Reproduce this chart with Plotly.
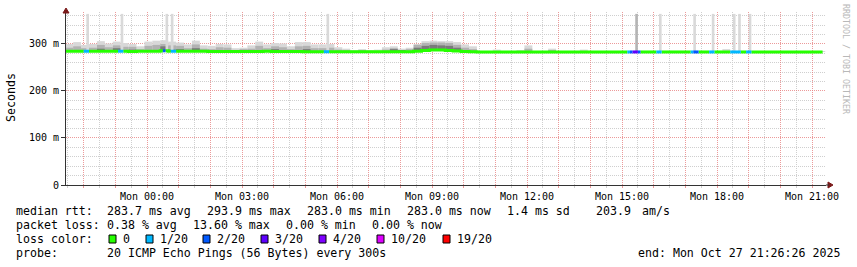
import pandas as pd
import plotly.graph_objects as go

# ---------------------------------------------------------------- data
window_start = "2025-10-26 21:26:26"
window_end = "2025-10-27 21:26:26"

x_tick_times = ["2025-10-27 00:00", "2025-10-27 03:00", "2025-10-27 06:00", "2025-10-27 09:00",
                "2025-10-27 12:00", "2025-10-27 15:00", "2025-10-27 18:00", "2025-10-27 21:00"]
x_tick_labels = ["Mon 00:00", "Mon 03:00", "Mon 06:00", "Mon 09:00",
                 "Mon 12:00", "Mon 15:00", "Mon 18:00", "Mon 21:00"]
y_tick_values = [0, 100, 200, 300]
y_tick_labels = ["0", "100 m", "200 m", "300 m"]

# 15-minute bins starting here
smoke_first_bin = "2025-10-26 21:25"
last_sample = "2025-10-27 21:15"

median_ms = [
    284.5, 284.5, 284.5, 284.5, 284.5, 284.5, 284.5, 284.5, 284.0, 284.5, 284.5, 284.5,
    285.5, 284.5, 284.5, 284.5, 284.5, 284.5, 284.0, 284.0, 284.0, 284.0, 284.0, 284.0,
    284.0, 284.5, 284.0, 284.0, 284.0, 284.0, 283.5, 283.5, 283.5, 283.5, 283.5, 283.5,
    283.5, 283.5, 283.5, 283.5, 283.5, 283.5, 283.5, 283.5, 284.5, 286.0, 287.0, 287.0,
    286.0, 285.0, 284.0, 283.5, 283.0, 283.0, 283.0, 283.0, 283.0, 283.0, 283.0, 283.0,
    283.0, 283.0, 283.0, 283.0, 283.0, 283.0, 283.0, 283.0, 283.0, 283.0, 283.0, 283.0,
    283.0, 283.0, 283.0, 283.0, 283.0, 283.0, 283.0, 283.0, 283.0, 283.0, 283.0, 283.0,
    283.0, 283.0, 283.0, 283.0, 283.0, 283.0, 283.0, 283.0, 283.0, 283.0, 283.0, 283.0,
]
smoke_max_ms = [
    300, 304, 298, 300, 306, 301, 305, 302, 300, 295, 305, 307,
    308, 305, 303, 299, 307, 297, 296, 300, 299, 291, 292, 297,
    305, 299, 302, 301, 295, 304, 304, 299, 299, 300, 293, 290,
    286, 289, 286, 288, 293, 295, 290, 292, 300, 306, 307, 306,
    306, 304, 299, 295, 285, 285, 288, 285, 285, 286, 297, 285,
    285, 290, 284, 284, 284, 288, 284, 284, 284, 284, 284, 284,
    284, 284, 284, 284, 284, 284, 284, 284, 284, 284, 284, 289,
    284, 284, 284, 284, 284, 284, 284, 284, 284, 284, 284, 284,
]
smoke_mid_ms = [
    292, 295, 291, 292, 298, 293, 297, 294, 294, 289, 296, 298,
    300, 297, 296, 291, 299, 290, 289, 293, 292, 287, 289, 290,
    296, 291, 295, 293, 289, 295, 296, 291, 291, 292, 288, 286,
    284, 286, 284, 285, 288, 291, 287, 289, 298, 302, 303, 303,
    302, 298, 292, 289, 283, 283, 285, 283, 283, 283, 290, 283,
    283, 286, 283, 283, 283, 283, 283, 283, 283, 283, 283, 283,
    283, 283, 283, 283, 283, 283, 283, 283, 283, 283, 283, 285,
    283, 283, 283, 283, 283, 283, 283, 283, 283, 283, 283, 283,
]
smoke_dark_ms = [
    284.5, 284.5, 284.5, 284.5, 290, 284.5, 291, 284.5, 288, 284.5, 284.5, 287,
    295, 288, 289, 284.5, 291, 284.5, 284, 286, 284, 284, 287, 284,
    284, 284.5, 289, 284, 284, 286, 289, 284, 284, 284, 284, 283.5,
    283.5, 283.5, 283.5, 283.5, 283.5, 289, 286, 284, 292, 296, 298, 297,
    296, 292, 287, 285, 283, 283, 283, 283, 283, 283, 283, 283,
    283, 283, 283, 283, 283, 283, 283, 283, 283, 283, 283, 283,
    283, 283, 283, 283, 283, 283, 283, 283, 283, 283, 283, 283,
    283, 283, 283, 283, 283, 283, 283, 283, 283, 283, 283, 283,
]

# 5-minute samples with packet loss (lost pings out of 20)
loss_times = [
    "2025-10-26 22:00", "2025-10-26 22:05", "2025-10-26 23:05", "2025-10-26 23:10",
    "2025-10-27 00:30", "2025-10-27 00:45", "2025-10-27 00:50", "2025-10-27 05:35",
    "2025-10-27 05:40", "2025-10-27 15:10", "2025-10-27 15:15", "2025-10-27 15:20",
    "2025-10-27 15:25", "2025-10-27 15:30", "2025-10-27 16:05", "2025-10-27 16:10",
    "2025-10-27 17:10", "2025-10-27 17:15", "2025-10-27 17:20", "2025-10-27 17:45",
    "2025-10-27 17:50", "2025-10-27 18:25", "2025-10-27 18:30", "2025-10-27 18:35",
    "2025-10-27 18:40", "2025-10-27 18:55", "2025-10-27 19:00",
]
loss_counts = [1, 1, 1, 1, 2, 1, 1, 1, 1, 1, 2, 3, 3, 2, 1, 1, 1, 2, 2, 1, 1, 1, 1, 1, 1, 1, 1]

# 5-minute samples with a single very slow ping
spike_times = [
    "2025-10-26 22:05", "2025-10-26 23:10", "2025-10-27 00:35", "2025-10-27 00:45",
    "2025-10-27 05:40", "2025-10-27 16:10", "2025-10-27 17:15", "2025-10-27 17:50",
    "2025-10-27 18:30", "2025-10-27 18:40", "2025-10-27 19:00",
]
spike_top_ms = [364, 364, 364, 364, 364, 364, 364, 364, 364, 364, 364]
dark_spike_times = ["2025-10-27 15:25"]
dark_spike_top_ms = [364]

loss_levels = [0, 1, 2, 3, 4, 10, 19]
loss_labels = ["0", "1/20", "2/20", "3/20", "4/20", "10/20", "19/20"]
loss_colors = ["#26ff00", "#00b8ff", "#0059ff", "#5e00ff", "#7e00ff", "#dd00ff", "#ff0000"]

median_stats = ["283.7 ms avg", "293.9 ms max", "283.0 ms min", "283.0 ms now", "1.4 ms sd", "203.9", "am/s"]
loss_stats = ["0.38 % avg", "13.60 % max", "0.00 % min", "0.00 % now"]
probe_text = "20 ICMP Echo Pings (56 Bytes) every 300s"
end_text = "end: Mon Oct 27 21:26:26 2025"

# ---------------------------------------------------------------- layout geometry
W, H = 857, 267
PL, PR, PT, PB = 66, 826, 12, 185
FONT = "DejaVu Sans Mono"


def px(x):
    return (x - PL) / (PR - PL)


def py(y):
    return (PB - y) / (PB - PT)


def fmt(t):
    return pd.Timestamp(t).strftime("%Y-%m-%d %H:%M:%S")


BIN = pd.Timedelta(minutes=15)
STEP = pd.Timedelta(minutes=5)
bin_starts = [pd.Timestamp(smoke_first_bin) + BIN * k for k in range(len(median_ms))]
bin_centers = [fmt(b + BIN / 2) for b in bin_starts]
steps = list(pd.date_range(smoke_first_bin, last_sample, freq="5min"))
step_med = [median_ms[i // 3] for i in range(len(steps))]
med_at = {t: m for t, m in zip(steps, step_med)}

fig = go.Figure()


def smoke(tops, color):
    heights = [max(0.0, t - m) for t, m in zip(tops, median_ms)]
    fig.add_trace(go.Bar(x=bin_centers, y=heights, base=median_ms,
                         width=BIN.total_seconds() * 1000,
                         marker=dict(color=color, line=dict(width=0)),
                         hoverinfo="skip", showlegend=False))


smoke(smoke_max_ms, "#d8d8d8")
smoke(smoke_mid_ms, "#b2b2b2")
smoke(smoke_dark_ms, "#7a7a7a")


def spikes(times, tops, color):
    ts = [pd.Timestamp(t) for t in times]
    bases = [med_at[t] for t in ts]
    fig.add_trace(go.Bar(x=[fmt(t + STEP / 2) for t in ts],
                         y=[top - b for top, b in zip(tops, bases)], base=bases,
                         width=STEP.total_seconds() * 1000,
                         marker=dict(color=color, line=dict(width=0)),
                         hoverinfo="skip", showlegend=False))


spikes(spike_times, spike_top_ms, "#d9d9d9")
spikes(dark_spike_times, dark_spike_top_ms, "#b4b4b4")

# median line, coloured by packet loss
loss_at = {pd.Timestamp(t): c for t, c in zip(loss_times, loss_counts)}


def color_index(count):
    idx = 0
    for i, lv in enumerate(loss_levels):
        if count >= lv:
            idx = i
    return idx


step_col = [color_index(loss_at.get(t, 0)) for t in steps]
runs = {i: ([], []) for i in range(len(loss_colors))}
i, n = 0, len(steps)
while i < n:
    ci = step_col[i]
    xs, ys = runs[ci]
    j = i
    while j < n and step_col[j] == ci:
        xs.append(fmt(steps[j]))
        ys.append(step_med[j])
        j += 1
    xs.append(fmt(steps[j - 1] + STEP))
    ys.append(step_med[j - 1])
    xs.append(None)
    ys.append(None)
    i = j

for ci in range(len(loss_colors)):
    xs, ys = runs[ci]
    if not xs:
        continue
    fig.add_trace(go.Scatter(x=xs, y=ys, mode="lines", line=dict(color=loss_colors[ci], width=3, shape="hv"),
                             connectgaps=False, hoverinfo="skip", showlegend=False))

# ---------------------------------------------------------------- axes
hours = pd.date_range("2025-10-26 22:00", "2025-10-27 21:00", freq="h")
label_of = {pd.Timestamp(t): l for t, l in zip(x_tick_times, x_tick_labels)}
half_hours = pd.date_range("2025-10-26 21:30", "2025-10-27 20:30", freq="h")

RED = "rgba(230,120,120,0.75)"
GRAY = "#cfcfcf"

fig.update_layout(
    width=W, height=H, template="none",
    margin=dict(l=PL, r=W - PR, t=PT, b=H - PB, pad=0),
    paper_bgcolor="white", plot_bgcolor="white",
    barmode="overlay", showlegend=False,
    font=dict(family=FONT, size=10, color="#000000"),
    xaxis=dict(
        type="date", range=[window_start, window_end],
        tickmode="array", tickvals=[fmt(h) for h in hours],
        ticktext=[label_of.get(h, "") for h in hours],
        showgrid=True, gridcolor=RED, griddash="1px,1px", gridwidth=1,
        ticks="outside", ticklen=2, tickcolor=RED, tickwidth=1,
        showline=True, linecolor="#333333", linewidth=1,
        zeroline=False, tickfont=dict(family=FONT, size=10, color="#000"),
        tickangle=0,
        minor=dict(tickmode="array", tickvals=[fmt(h) for h in half_hours],
                   showgrid=True, gridcolor=GRAY, griddash="1px,1px", gridwidth=1,
                   ticks="outside", ticklen=2, tickcolor=GRAY),
    ),
    yaxis=dict(
        range=[0, 368], tickmode="array", tickvals=y_tick_values, ticktext=y_tick_labels,
        showgrid=True, gridcolor=RED, griddash="1px,1px", gridwidth=1,
        ticks="outside", ticklen=4, tickcolor="#333333",
        showline=True, linecolor="#333333", linewidth=1, zeroline=False,
        tickfont=dict(family=FONT, size=10, color="#000"),
        minor=dict(tickmode="array", tickvals=[v for v in range(20, 368, 20) if v % 100],
                   showgrid=True, gridcolor=GRAY, griddash="1px,1px", gridwidth=1),
    ),
)

# axis arrows
ARROW = "#7a1a1a"
fig.add_shape(type="path", xref="paper", yref="paper", fillcolor=ARROW, line=dict(color=ARROW, width=1),
              path=f"M {px(PL - 3)},{py(13)} L {px(PL + 3)},{py(13)} L {px(PL)},{py(8)} Z")
fig.add_shape(type="path", xref="paper", yref="paper", fillcolor=ARROW, line=dict(color=ARROW, width=1),
              path=f"M {px(828)},{py(182)} L {px(828)},{py(188)} L {px(833)},{py(185)} Z")
fig.add_shape(type="line", xref="paper", yref="paper", x0=px(PR), x1=px(829), y0=0, y1=0,
              line=dict(color="#333333", width=1))


def text(s, x, y, anchor="left", size=11.6, color="#000000", angle=0, ya="middle"):
    fig.add_annotation(text=s, x=px(x), y=py(y), xref="paper", yref="paper", showarrow=False,
                       xanchor=anchor, yanchor=ya, textangle=angle, borderpad=0, borderwidth=0,
                       font=dict(family=FONT, size=size, color=color))


text("Seconds", 11, 98, anchor="center", size=11.6, angle=-90)
text("RRDTOOL / TOBI OETIKER", 846, 59, anchor="center", size=8.3, color="#b8b8b8", angle=90)

# legend / statistics lines
text("median rtt:", 16, 211)
for s, x in zip(median_stats, [107, 207, 307, 407, 507, 596, 642]):
    text(s, x, 211)
text("packet loss:", 16, 225)
for s, x in zip(loss_stats, [107, 193, 286, 372]):
    text(s, x, 225)
text("loss color:", 16, 239)
box_x = [109, 146, 203, 261, 319, 377, 443]
for col, lab, bx in zip(loss_colors, loss_labels, box_x):
    fig.add_shape(type="rect", xref="paper", yref="paper", x0=px(bx), x1=px(bx + 7), y0=py(243), y1=py(235),
                  fillcolor=col, line=dict(color="#000000", width=1))
    text(lab, bx + 14, 239)
text("probe:", 16, 253)
text(probe_text, 107, 253)
text(end_text, 840, 253, anchor="right")

fig.write_html("out.html")
